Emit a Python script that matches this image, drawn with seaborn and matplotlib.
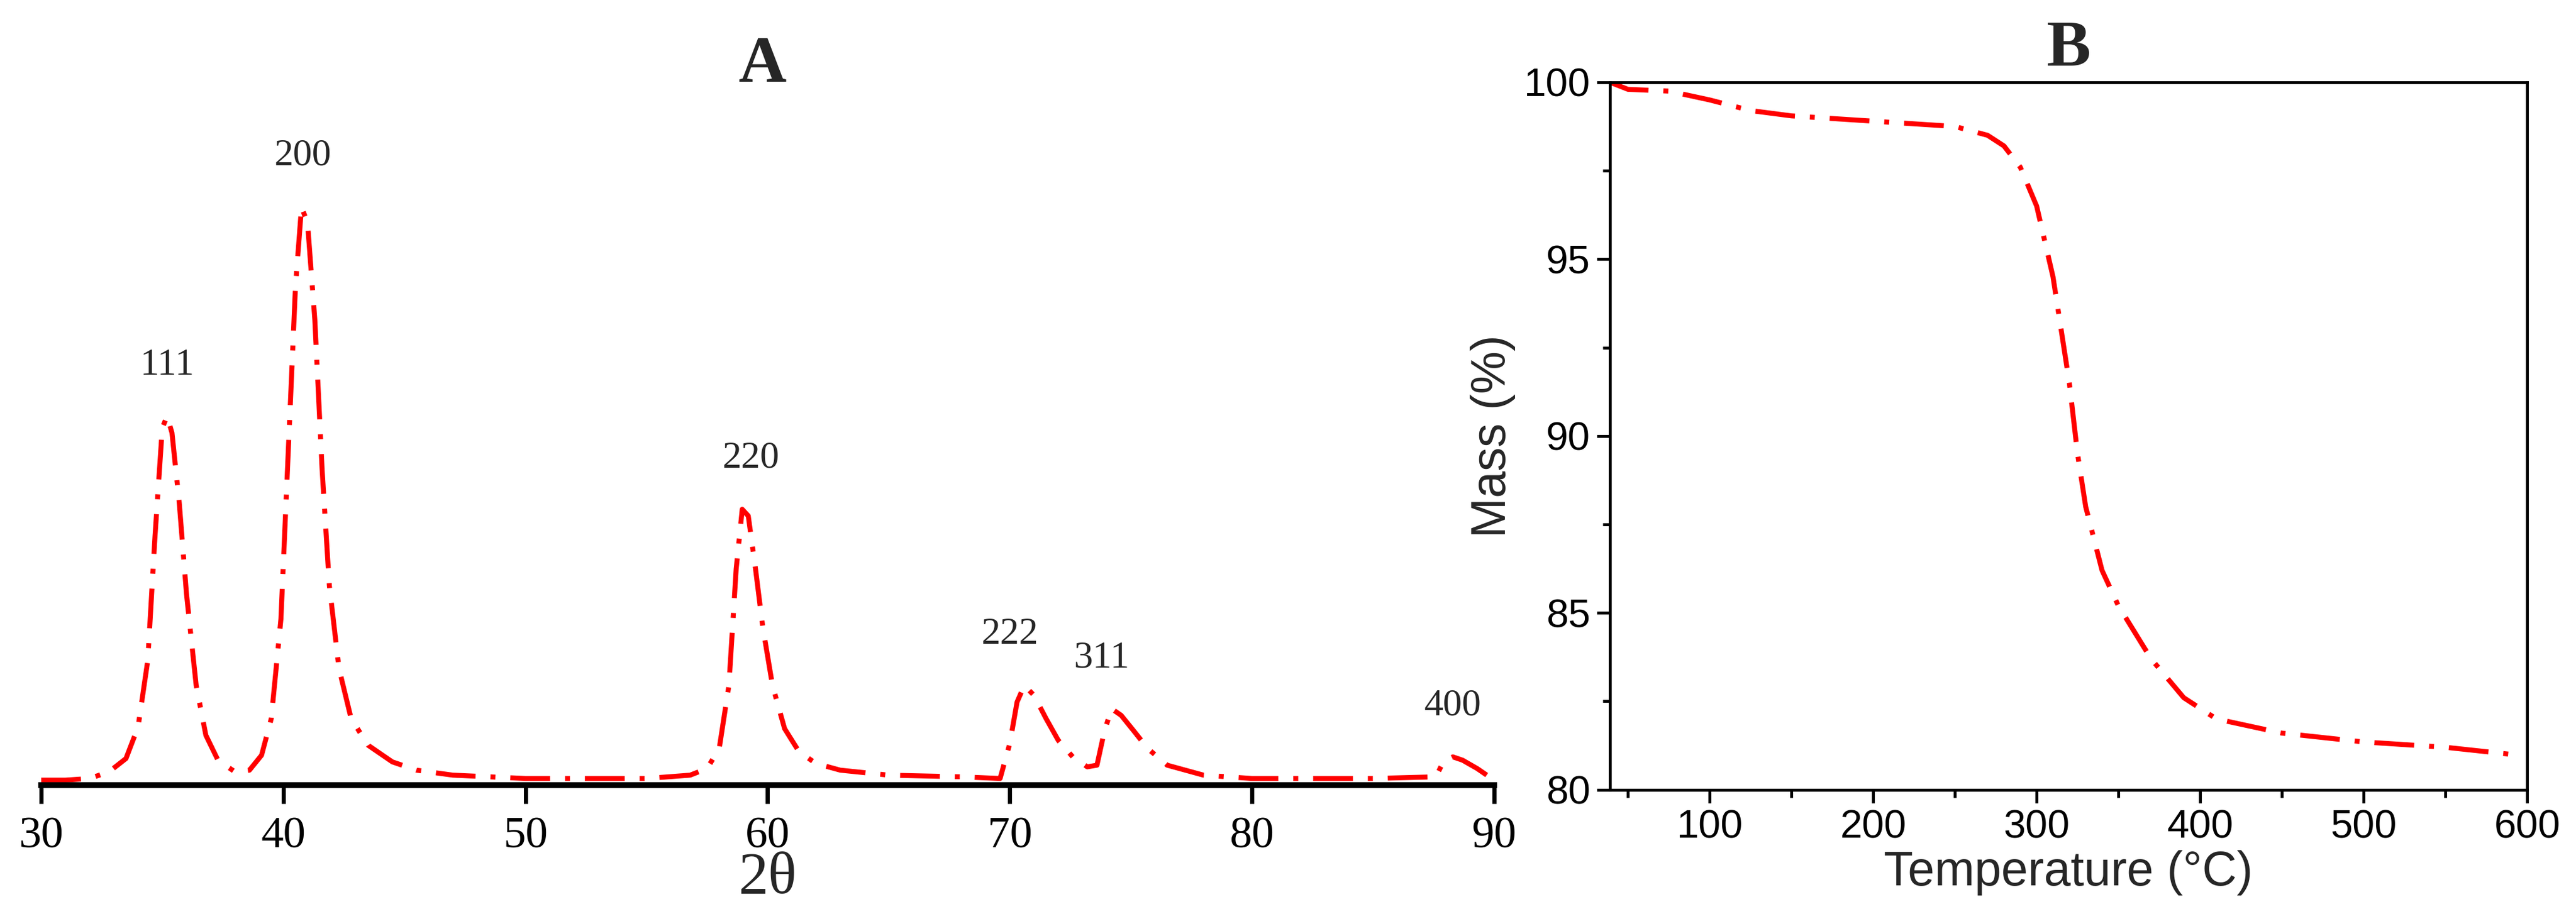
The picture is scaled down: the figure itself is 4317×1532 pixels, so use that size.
import matplotlib
matplotlib.use("Agg")
import matplotlib.pyplot as plt
import seaborn as sns
import pandas as pd
from matplotlib.ticker import MultipleLocator

sns.set_theme(style="white")

xrd_2theta = [30, 31, 32, 32.8, 33.5, 34, 34.4, 34.7, 35, 35.2, 35.4, 35.7, 36.0, 36.4, 36.8, 37.3, 38, 38.6,
              39.1, 39.5, 39.9, 40.2, 40.5, 40.75, 41.0, 41.3, 41.6, 41.9, 42.3, 42.8, 43.5, 44.5, 45.5, 47,
              50, 55, 56.8, 57.5, 58.0, 58.4, 58.7, 58.95, 59.2, 59.5, 59.8, 60.2, 60.7, 61.3, 62, 63, 65, 68,
              69.6, 70.0, 70.3, 70.6, 71.0, 71.5, 72.0, 72.6, 73.2, 73.6, 73.9, 74.2, 74.6, 75.1, 75.7,
              76.5, 78, 80, 85, 87.6, 87.9, 88.3, 88.7, 89.3, 90]
xrd_int = [3, 3, 4, 8, 16, 35, 75, 150, 215, 222, 212, 170, 115, 60, 30, 15, 8, 9,
           18, 40, 100, 200, 300, 348, 338, 280, 190, 120, 70, 40, 24, 14, 9, 6,
           4, 4, 6, 10, 22, 60, 130, 166, 162, 130, 95, 60, 34, 20, 13, 9, 6, 5,
           4, 25, 50, 60, 54, 40, 27, 17, 11, 12, 32, 46, 42, 33, 22,
           12, 6, 4, 4, 5, 14, 17, 15, 10, 3]
peak_labels = ["111", "200", "220", "222", "311", "400"]
peak_pos = [35.2, 40.8, 59.3, 70.0, 73.8, 88.3]
peak_lab_h = [222, 348, 166, 60, 46, 17]

tga_T = [39, 50, 75, 100, 125, 150, 200, 250, 270, 280, 290, 300, 310, 315, 320, 325, 330, 340,
         350, 370, 390, 410, 450, 500, 550, 590]
tga_mass = [100, 99.8, 99.75, 99.5, 99.2, 99.05, 98.9, 98.75, 98.5, 98.2, 97.6, 96.5, 94.5, 93,
            91.5, 89.5, 88, 86.2, 85.2, 83.7, 82.6, 82.0, 81.6, 81.35, 81.2, 81.0]

dfA = pd.DataFrame({"x": xrd_2theta, "y": xrd_int})
dfB = pd.DataFrame({"T": tga_T, "m": tga_mass})

fig = plt.figure(figsize=(43.17, 15.32), dpi=100)
serif = "Liberation Serif"
sans = "Liberation Sans"

axA = fig.add_axes([0.016, 0.141, 0.564, 0.76])
sns.lineplot(data=dfA, x="x", y="y", ax=axA, color="red", lw=6)
axA.lines[0].set_dashes([8, 3, 1, 3])
axA.set_xlim(30, 90)
axA.set_ylim(0, 418)
for s in ["top", "left", "right"]:
    axA.spines[s].set_visible(False)
axA.spines["bottom"].set_linewidth(7)
axA.spines["bottom"].set_color("black")
axA.set_yticks([])
axA.xaxis.set_major_locator(MultipleLocator(10))
axA.tick_params(axis="x", direction="out", length=22, width=5, bottom=True, colors="black", pad=16)
for t in axA.get_xticklabels():
    t.set_fontfamily(serif); t.set_fontsize(54)
axA.set_xlabel("2θ", fontfamily=serif, fontsize=72, labelpad=-6)
axA.set_ylabel("")
for lab, p, h in zip(peak_labels, peak_pos, peak_lab_h):
    axA.text(p, h + 20, lab, ha="center", va="bottom", fontfamily=serif, fontsize=46)
fig.text(0.296, 0.928, "A", ha="center", va="center", fontfamily=serif, fontsize=80, fontweight="bold")

axB = fig.add_axes([0.625, 0.136, 0.356, 0.774])
sns.lineplot(data=dfB, x="T", y="m", ax=axB, color="red", lw=6)
axB.lines[0].set_dashes([8, 3, 1, 3])
axB.set_xlim(39, 600)
axB.set_ylim(80, 100)
for s in axB.spines.values():
    s.set_visible(True); s.set_color("black"); s.set_linewidth(3.5)
axB.xaxis.set_major_locator(MultipleLocator(100))
axB.xaxis.set_minor_locator(MultipleLocator(50))
axB.yaxis.set_major_locator(MultipleLocator(5))
axB.yaxis.set_minor_locator(MultipleLocator(2.5))
axB.tick_params(which="major", direction="out", length=16, width=3.5, bottom=True, left=True, colors="black", pad=8)
axB.tick_params(which="minor", direction="out", length=9, width=3.5, bottom=True, left=True, colors="black")
for t in axB.get_xticklabels() + axB.get_yticklabels():
    t.set_fontfamily(sans); t.set_fontsize(48)
axB.set_xlabel("Temperature (°C)", fontfamily=sans, fontsize=58, labelpad=4)
axB.set_ylabel("Mass (%)", fontfamily=sans, fontsize=58, labelpad=10)
fig.text(0.803, 0.946, "B", ha="center", va="center", fontfamily=serif, fontsize=80, fontweight="bold")

fig.savefig("out.png", dpi=100, facecolor="white")
